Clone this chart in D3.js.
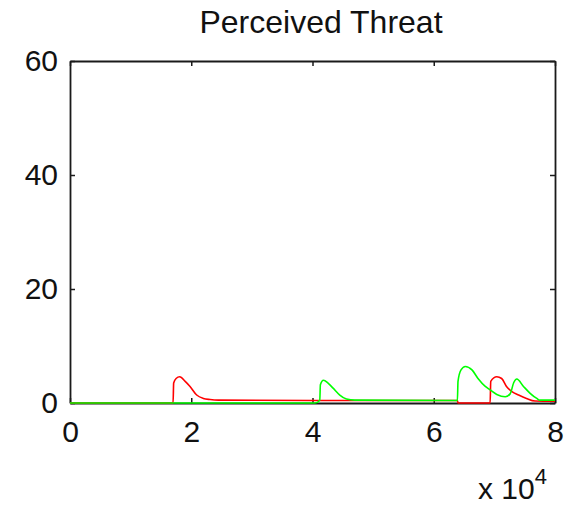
<!DOCTYPE html>
<html>
<head>
<meta charset="utf-8">
<script src="https://cdn.jsdelivr.net/npm/d3@7"></script>
<style>
  body { margin: 0; background: #fff; }
  text { font-family: "Liberation Sans", Arial, sans-serif; fill: #111; }
</style>
</head>
<body>
<div id="chart"></div>
<script>
// values (x = sample index, y = threat level)
const xTicks = [0, 20000, 40000, 60000, 80000];
const xTickLabels = ["0", "2", "4", "6", "8"];
const yTicks = [0, 20, 40, 60];

const redX = [0, 17000, 17100, 17500, 18100, 19000, 19800, 20900, 22000, 23100, 24500, 40000,
  63900, 64000, 69300, 69400, 70400, 71200, 72000, 72900, 74000, 75300, 76700, 80000];
const redY = [0, 0, 3.5, 4.3, 4.6, 3.8, 2.9, 1.4, 0.8, 0.6, 0.5, 0.45,
  0.45, 0, 0, 3.8, 4.6, 4.3, 2.9, 2.0, 1.4, 0.8, 0.35, 0.3];

const greenX = [0, 40400, 41200, 41300, 41800, 42600, 43400, 44500, 45600, 47000, 63900,
  64000, 64500, 65200, 66300, 67300, 68500, 69300, 70400, 71800, 72600, 73200, 73700,
  74800, 75900, 77000, 77500, 80000];
const greenY = [0, 0, 0.5, 3.2, 4.0, 3.45, 2.6, 1.4, 0.7, 0.5, 0.45,
  3.8, 5.8, 6.4, 5.8, 4.3, 2.9, 2.3, 1.5, 1.1, 1.6, 3.6, 4.2,
  2.9, 1.7, 0.8, 0.5, 0.5];

const W = 576, H = 506;
const margin = { top: 61, right: 21, bottom: 103, left: 70 };
const width = W - margin.left - margin.right;
const height = H - margin.top - margin.bottom;

const svg = d3.select("#chart").append("svg")
  .attr("width", W)
  .attr("height", H);

const g = svg.append("g")
  .attr("transform", "translate(" + margin.left + "," + margin.top + ")");

const x = d3.scaleLinear().domain([0, 80000]).range([0, width]);
const y = d3.scaleLinear().domain([0, 60]).range([height, 0]);

// inward ticks on all four sides, labels on bottom and left
const axBottom = g.append("g")
  .attr("transform", "translate(0," + height + ")")
  .call(d3.axisBottom(x).tickValues(xTicks).tickFormat((d, i) => xTickLabels[i])
    .tickSizeInner(-5).tickSizeOuter(0).tickPadding(18));
const axTop = g.append("g")
  .call(d3.axisTop(x).tickValues(xTicks).tickFormat("").tickSizeInner(-5).tickSizeOuter(0));
const axLeft = g.append("g")
  .call(d3.axisLeft(y).tickValues(yTicks).tickSizeInner(-5).tickSizeOuter(0).tickPadding(12));
const axRight = g.append("g")
  .attr("transform", "translate(" + width + ",0)")
  .call(d3.axisRight(y).tickValues(yTicks).tickFormat("").tickSizeInner(-5).tickSizeOuter(0));

[axBottom, axTop, axLeft, axRight].forEach(a => {
  a.select(".domain").attr("stroke", "#1a1a1a").attr("stroke-width", 1.8);
  a.selectAll(".tick line").attr("stroke", "#1a1a1a").attr("stroke-width", 1.5);
  a.selectAll(".tick text")
    .style("font-family", "'Liberation Sans', Arial, sans-serif")
    .style("font-size", "30px")
    .attr("fill", "#111");
});

axBottom.selectAll(".tick text").attr("dy", "0.71em");

// lines go on top of the axes, like the reference
const line = d3.line()
  .x(d => x(d[0]))
  .y(d => y(d[1]))
  .curve(d3.curveMonotoneX);

g.append("path")
  .datum(d3.zip(redX, redY))
  .attr("d", line)
  .attr("fill", "none")
  .attr("stroke", "#ff0000")
  .attr("stroke-width", 1.6);

g.append("path")
  .datum(d3.zip(greenX, greenY))
  .attr("d", line)
  .attr("fill", "none")
  .attr("stroke", "#00ff00")
  .attr("stroke-width", 1.6);

// title
svg.append("text")
  .attr("x", 321)
  .attr("y", 33)
  .attr("text-anchor", "middle")
  .style("font-size", "32px")
  .text("Perceived Threat");

// exponent label
const expo = svg.append("text")
  .attr("x", 478)
  .attr("y", 499)
  .style("font-size", "30px");
expo.append("tspan").text("x 10");
expo.append("tspan")
  .attr("dy", -15)
  .style("font-size", "22px")
  .text("4");
</script>
</body>
</html>
